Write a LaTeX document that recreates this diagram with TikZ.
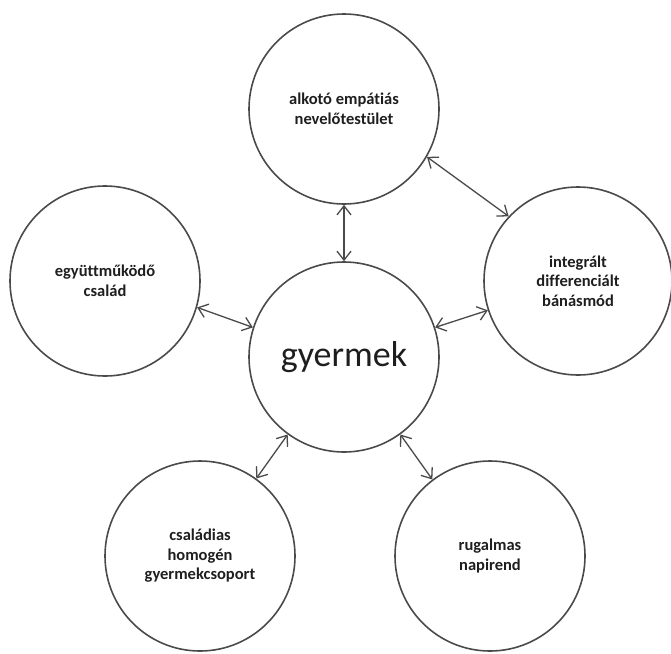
\documentclass[tikz,border=0pt]{standalone}
\usepackage{fontspec}
\setmainfont{Carlito}[Ligatures=NoCommon,Contextuals=NoAlternate]
\usetikzlibrary{arrows.meta}
\definecolor{linegray}{HTML}{4A4A4A}
\definecolor{textgray}{HTML}{1E1E1E}
\tikzset{
  bubble/.style={circle, draw=linegray, line width=1.6pt, minimum size=190pt, inner sep=0pt,
    align=center, text=textgray, font=\fontsize{16.5pt}{19.5pt}\selectfont\bfseries},
  hub/.style={bubble, font=\fontsize{36pt}{40pt}\selectfont},
  link/.style={draw=linegray, line width=1.3pt,
    {Straight Barb[length=9pt,width=14pt]}-{Straight Barb[length=9pt,width=14pt]}}
}
\begin{document}
\begin{tikzpicture}[x=1pt,y=-1pt]
\useasboundingbox (0,0) rectangle (671,653);
\node[hub] (g) at (344,357) {gyermek};
\node[bubble] (t) at (344,109) {alkotó empát\kern0pt iás\\nevelőtestület};
\node[bubble] (l) at (105,281) {együttműködő\\család};
\node[bubble, minimum size=188pt] (r) at (578,281) {integrált\\differenciált\\bánásmód};
\node[bubble] (bl) at (200,556) {családias\\homogén\\gyermekcsoport};
\node[bubble] (br) at (490,556) {rugalmas\\napirend};
\draw[link] (t.270) -- (g.90);
\draw[link] (l.-16) -- (g.162);
\draw[link] (g.18) -- (r.-162);
\draw[link] (t.-30) -- (r.137);
\draw[link] (g.234) -- (bl.54);
\draw[link] (g.306) -- (br.127);
\end{tikzpicture}
\end{document}
